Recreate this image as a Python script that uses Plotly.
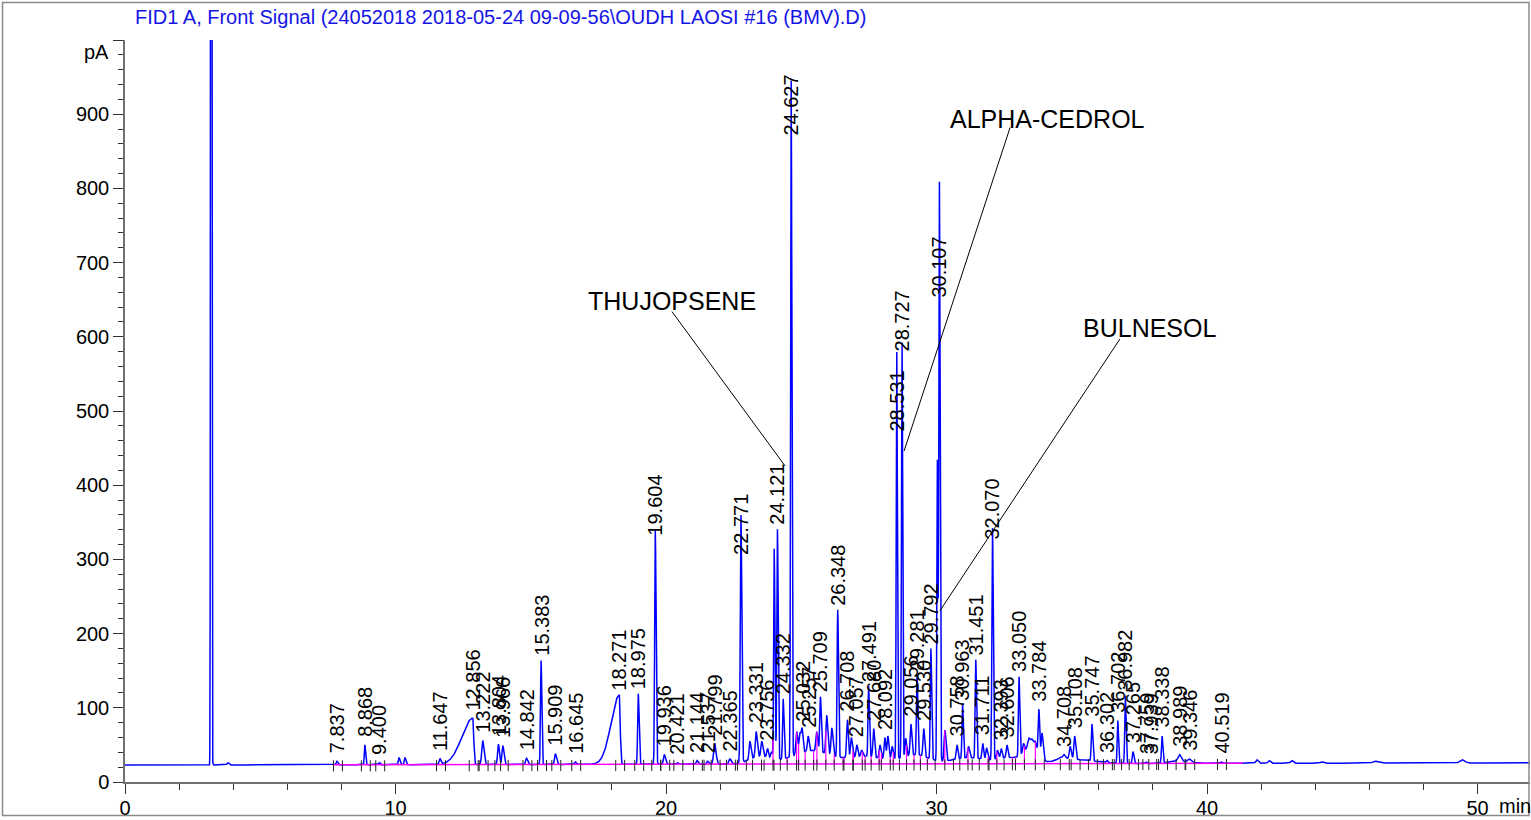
import numpy as np
import plotly.graph_objects as go

# ---------------- data ----------------
# labelled peaks: retention time label, apex (pA), left / right peak width (min)
peak_labels = ["7.837", "8.868", "9.400", "11.647", "12.856", "13.222", "13.804", "13.966",
               "14.842", "15.383", "15.909", "16.645", "18.271", "18.975", "19.604", "19.936",
               "20.421", "21.144", "21.537", "21.799", "22.365", "22.771", "23.331", "23.756",
               "24.121", "24.332", "24.627", "25.032", "25.257", "25.709", "26.348", "26.708",
               "27.057", "27.491", "27.680", "28.092", "28.531", "28.727", "29.056", "29.281",
               "29.530", "29.792", "30.107", "30.758", "30.963", "31.451", "31.711", "32.070",
               "32.393", "32.606", "33.050", "33.784", "34.708", "35.108", "35.747", "36.302",
               "36.702", "36.982", "37.265", "37.759", "37.939", "38.338", "38.989", "39.346",
               "40.519"]
peak_apex = [28, 50, 26, 31, 86, 56, 51, 49,
             32, 164, 38, 27, 117, 119, 340, 37,
             26, 29, 28, 52, 31, 360, 68, 45,
             341, 112, 946, 70, 62, 115, 232, 84,
             50, 129, 72, 60, 580, 593, 78, 144,
             72, 180, 808, 50, 104, 165, 52, 343,
             45, 50, 142, 98, 37, 62, 78, 29,
             83, 117, 41, 27, 26, 62, 37, 31,
             27]
peak_wleft = [.03, .02, .03, .03, .40, .035, .03, .03,
              .03, .022, .03, .03, .30, .022, .022, .03,
              .03, .03, .03, .04, .04, .025, .03, .03,
              .022, .022, .02, .03, .03, .025, .022, .03,
              .03, .022, .03, .03, .02, .02, .03, .022,
              .03, .022, .02, .03, .022, .022, .03, .022,
              .03, .03, .022, .025, .04, .03, .025, .03,
              .022, .022, .025, .03, .03, .022, .06, .05,
              .05]
peak_wright = [.03, .025, .03, .03, .035, .045, .035, .04,
               .04, .025, .04, .03, .035, .03, .028, .04,
               .03, .04, .04, .05, .04, .03, .04, .03,
               .025, .03, .025, .03, .03, .03, .028, .03,
               .03, .028, .03, .03, .022, .022, .03, .028,
               .03, .028, .025, .03, .028, .028, .03, .028,
               .03, .03, .028, .03, .04, .035, .03, .03,
               .025, .025, .03, .03, .03, .028, .06, .05,
               .05]

# unlabelled peaks: time (min), apex (pA), width (min)
extra_times = [3.18, 3.80, 10.13, 10.35, 23.10, 23.54, 23.90, 24.00, 24.83, 24.95,
               25.57, 25.94, 26.13, 26.85, 27.23, 27.91, 28.20, 28.36, 28.86, 30.03,
               30.31, 31.18, 31.85, 32.25, 33.21, 33.41, 33.53, 33.65, 33.90, 34.55,
               34.94, 41.84, 42.29, 43.13, 44.24, 46.20, 49.42]
extra_apex = [3000, 26, 33, 33, 55, 55, 40, 314, 68, 66,
              68, 90, 73, 60, 43, 50, 62, 48, 59, 435,
              70, 48, 46, 43, 52, 59, 57, 54, 66, 33,
              48, 30, 29, 29, 27, 28, 30]
extra_width = [.014, .03, .025, .025, .03, .03, .03, .02, .03, .03,
               .03, .03, .03, .03, .03, .03, .03, .03, .025, .018,
               .03, .03, .03, .03, .03, .04, .04, .04, .03, .05,
               .03, .04, .04, .04, .05, .08, .08]

# unresolved hump under the dense region: centre (min), height (pA), width (min)
broad_times = [23.5, 25.4, 27.4, 29.2, 31.2, 32.7, 33.5, 34.7, 35.5, 39.0]
broad_heights = [10, 18, 10, 12, 8, 8, 22, 6, 4, 3]
broad_widths = [0.4, 0.7, 0.6, 0.5, 0.6, 0.4, 0.25, 0.35, 0.5, 0.4]

# baseline level read at the two ends
baseline_times = [0.0, 52.0]
baseline_levels = [22.8, 25.8]

# compound annotations
compound_names = ["THUJOPSENE", "ALPHA-CEDROL", "BULNESOL"]

# ---------------- build the signal trace ----------------
t = np.arange(0.0, 52.0, 0.004)
base = np.interp(t, baseline_times, baseline_levels)
floor = base.copy()
for c, h, w in zip(broad_times, broad_heights, broad_widths):
    floor += h * np.exp(-0.5 * ((t - c) / w) ** 2)
signal = floor.copy()


def add_peak(c, apex, wl, wr):
    global signal
    amp = apex - np.interp(c, t, floor)
    s = np.where(t < c, wl, wr)
    signal = signal + amp * np.exp(-0.5 * ((t - c) / s) ** 2)


peak_times = [float(s) for s in peak_labels]
for c, a, wl, wr in zip(peak_times, peak_apex, peak_wleft, peak_wright):
    add_peak(c, a, wl, wr)
for c, a, w in zip(extra_times, extra_apex, extra_width):
    add_peak(c, a, w, w * 1.3)

# integration marks (peak start / end)
starts = [c - 0.13 for c in peak_times]
ends = [c + 0.2 for c in peak_times]
for i in range(len(peak_times) - 1):
    if ends[i] > starts[i + 1]:
        m = 0.5 * (peak_times[i] + peak_times[i + 1])
        ends[i] = m
        starts[i + 1] = m
marks = sorted(set([round(v, 3) for v in starts + ends]))

bl_start, bl_end = starts[0], ends[-1] + 0.6

fig = go.Figure()
fig.add_trace(go.Scatter(x=t, y=signal, mode="lines",
                         line=dict(color="#0000FF", width=1.5),
                         hoverinfo="skip", showlegend=False))

# magenta integration baseline
bt = np.array([bl_start, bl_end])
fig.add_trace(go.Scatter(x=bt, y=np.interp(bt, baseline_times, baseline_levels), mode="lines",
                         line=dict(color="#FF00FF", width=1.5), showlegend=False, hoverinfo="skip"))

# magenta drop lines where peaks are not resolved to baseline
dx, dy = [], []
for m in marks:
    b = np.interp(m, baseline_times, baseline_levels)
    s = np.interp(m, t, signal)
    if 8 < s - b < 60 and 23.8 < m < 34.2:
        dx += [m, m, None]
        dy += [b, s, None]
fig.add_trace(go.Scatter(x=dx, y=dy, mode="lines", line=dict(color="#FF00FF", width=1.2),
                         showlegend=False, hoverinfo="skip"))

# black start / end ticks
kx, ky = [], []
for m in marks:
    b = np.interp(m, baseline_times, baseline_levels)
    kx += [m, m, None]
    ky += [b - 9, b + 6, None]
fig.add_trace(go.Scatter(x=kx, y=ky, mode="lines", line=dict(color="#222222", width=1),
                         showlegend=False, hoverinfo="skip"))

FONT = "Liberation Sans, Arial, sans-serif"

# retention-time labels
label_base_override = {"19.604": 329, "22.771": 304, "24.627": 868, "28.531": 470,
                       "28.727": 577, "30.107": 650, "32.070": 324}
for lab, c, a in zip(peak_labels, peak_times, peak_apex):
    yb = label_base_override.get(lab, a + (3 if a >= 100 else 8))
    fig.add_annotation(x=c, y=yb, text=lab, textangle=-90, showarrow=False,
                       xanchor="center", yanchor="bottom",
                       font=dict(family=FONT, size=20, color="black"))

# compound name annotations with leader lines
name_pos = [(20.22, 648), (34.12, 894), (37.86, 612)]
leader = [((20.22, 634), (24.40, 426)), ((32.72, 882), (28.80, 446)), ((36.78, 597), (30.13, 231))]
for name, (nx, ny), ((x0, y0), (x1, y1)) in zip(compound_names, name_pos, leader):
    fig.add_annotation(x=nx, y=ny, text=name, showarrow=False, xanchor="center", yanchor="middle",
                       font=dict(family=FONT, size=25, color="black"))
    fig.add_shape(type="line", x0=x0, y0=y0, x1=x1, y1=y1, xref="x", yref="y",
                  line=dict(color="black", width=1))

L, R, T, B = 125, 1, 40, 36
W, H = 1531, 820
pw, ph = W - L - R, H - T - B


def px(xp):
    return (xp - L) / pw


def py(yp):
    return (H - B - yp) / ph


# title, units
fig.add_annotation(x=px(133), y=py(17), xref="paper", yref="paper", showarrow=False,
                   xanchor="left", yanchor="middle",
                   text="FID1 A, Front Signal (24052018 2018-05-24 09-09-56\\OUDH LAOSI #16 (BMV).D)",
                   font=dict(family=FONT, size=20, color="#1414E6"))
fig.add_annotation(x=px(96), y=py(52), xref="paper", yref="paper", showarrow=False,
                   xanchor="center", yanchor="middle", text="pA",
                   font=dict(family=FONT, size=20, color="black"))
fig.add_annotation(x=px(1515), y=py(808), xref="paper", yref="paper", showarrow=False,
                   xanchor="center", yanchor="middle", text="min",
                   font=dict(family=FONT, size=20, color="black"))

# outer frame
fig.add_shape(type="rect", xref="paper", yref="paper", x0=px(2.5), x1=px(1529), y0=py(817.5), y1=py(2.5),
              line=dict(color="#8a8a8a", width=1.5), layer="above")

yticks = list(range(0, 1001, 100))
fig.update_layout(
    width=W, height=H,
    margin=dict(l=L, r=R, t=T, b=B),
    paper_bgcolor="white", plot_bgcolor="white",
    showlegend=False,
    xaxis=dict(range=[0, pw / 27.05], showgrid=False, zeroline=False,
               showline=True, linecolor="#707070", linewidth=1.5,
               ticks="outside", ticklen=10, tickwidth=1.2, tickcolor="#333333",
               tickvals=[0, 10, 20, 30, 40, 50], ticklabelstandoff=-3,
               minor=dict(dtick=2, tick0=0, ticks="outside", ticklen=6, tickwidth=1, tickcolor="#333333"),
               tickfont=dict(family=FONT, size=20, color="black")),
    yaxis=dict(range=[0, 1000], showgrid=False, zeroline=False,
               showline=True, linecolor="#707070", linewidth=1.5,
               ticks="outside", ticklen=10, tickwidth=1.2, tickcolor="#333333",
               tickvals=yticks, ticktext=[str(v) if v < 1000 else "" for v in yticks],
               minor=dict(dtick=20, tick0=0, ticks="outside", ticklen=5, tickwidth=1, tickcolor="#333333"),
               tickfont=dict(family=FONT, size=20, color="black")),
)

fig.write_html("out.html", config={"displayModeBar": False},
               post_script="document.body.style.margin='0';document.body.style.overflow='hidden';")
